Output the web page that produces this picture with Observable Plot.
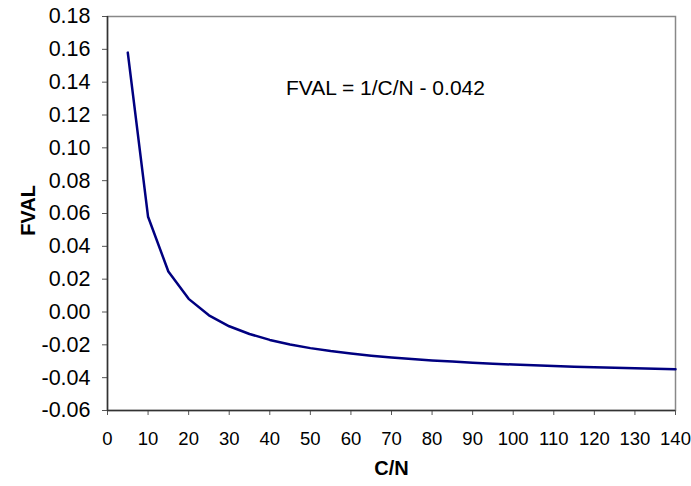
<!DOCTYPE html>
<html>
<head>
<meta charset="utf-8">
<script src="https://cdn.jsdelivr.net/npm/d3@7"></script>
<script src="https://cdn.jsdelivr.net/npm/@observablehq/plot@0.6"></script>
<style>
  html, body { margin: 0; padding: 0; background: #fff; }
  #chart svg { display: block; }
</style>
</head>
<body>
<div id="chart"></div>
<script>
const cn = [5, 10, 15, 20, 25, 30, 35, 40, 45, 50, 55, 60, 65, 70, 75, 80, 85, 90, 95, 100, 105, 110, 115, 120, 125, 130, 135, 140];
const fval = [0.158, 0.058, 0.0247, 0.008, -0.002, -0.0087, -0.0134, -0.017, -0.0198, -0.022, -0.0238, -0.0253, -0.0266, -0.0277, -0.0287, -0.0295, -0.0302, -0.0309, -0.0315, -0.032, -0.0325, -0.0329, -0.0333, -0.0337, -0.034, -0.0343, -0.0346, -0.0349];
const xTicks = [0, 10, 20, 30, 40, 50, 60, 70, 80, 90, 100, 110, 120, 130, 140];
const yTicks = [-0.06, -0.04, -0.02, 0, 0.02, 0.04, 0.06, 0.08, 0.10, 0.12, 0.14, 0.16, 0.18];
const xLabel = "C/N";
const yLabel = "FVAL";
const annotation = [{x: 68.5, y: 0.136, text: "FVAL = 1/C/N - 0.042"}];

const data = cn.map((c, i) => ({cn: c, fval: fval[i]}));
const font = "'Liberation Sans', Arial, sans-serif";
const fmtY = d => (Math.abs(d) < 1e-9 ? 0 : d).toFixed(2);

const chart = Plot.plot({
  width: 691,
  height: 486,
  marginLeft: 107,
  marginRight: 16,
  marginTop: 16,
  marginBottom: 76,
  style: {fontFamily: font, fontSize: "21px", color: "#000", background: "#fff"},
  x: {domain: [0, 140], ticks: xTicks, label: null},
  y: {domain: [-0.06, 0.18], ticks: yTicks, tickFormat: fmtY, label: null},
  marks: [
    Plot.frame({stroke: "#888", strokeWidth: 1.5}),
    Plot.axisX({ticks: xTicks, tickSize: 5, tickPadding: 16, label: null, stroke: "#555", fontSize: 18.5}),
    Plot.axisY({ticks: yTicks, tickSize: 5, tickPadding: 12, tickFormat: fmtY, label: null, stroke: "#555", fontSize: 21.5}),
    Plot.ruleX([0], {stroke: "#333", strokeWidth: 1.5}),
    Plot.ruleY([-0.06], {stroke: "#333", strokeWidth: 1.5}),
    Plot.line(data, {x: "cn", y: "fval", stroke: "#000080", strokeWidth: 2.5}),
    Plot.text(annotation, {x: "x", y: "y", text: "text", fontSize: 21, fill: "#000"}),
    Plot.text([xLabel], {frameAnchor: "bottom", dy: 64, text: d => d, fontWeight: "bold", fontSize: 20}),
    Plot.text([yLabel], {frameAnchor: "left", textAnchor: "middle", dx: -79, dy: -3, rotate: -90, text: d => d, fontWeight: "bold", fontSize: 20})
  ]
});
document.getElementById("chart").appendChild(chart);
</script>
</body>
</html>
